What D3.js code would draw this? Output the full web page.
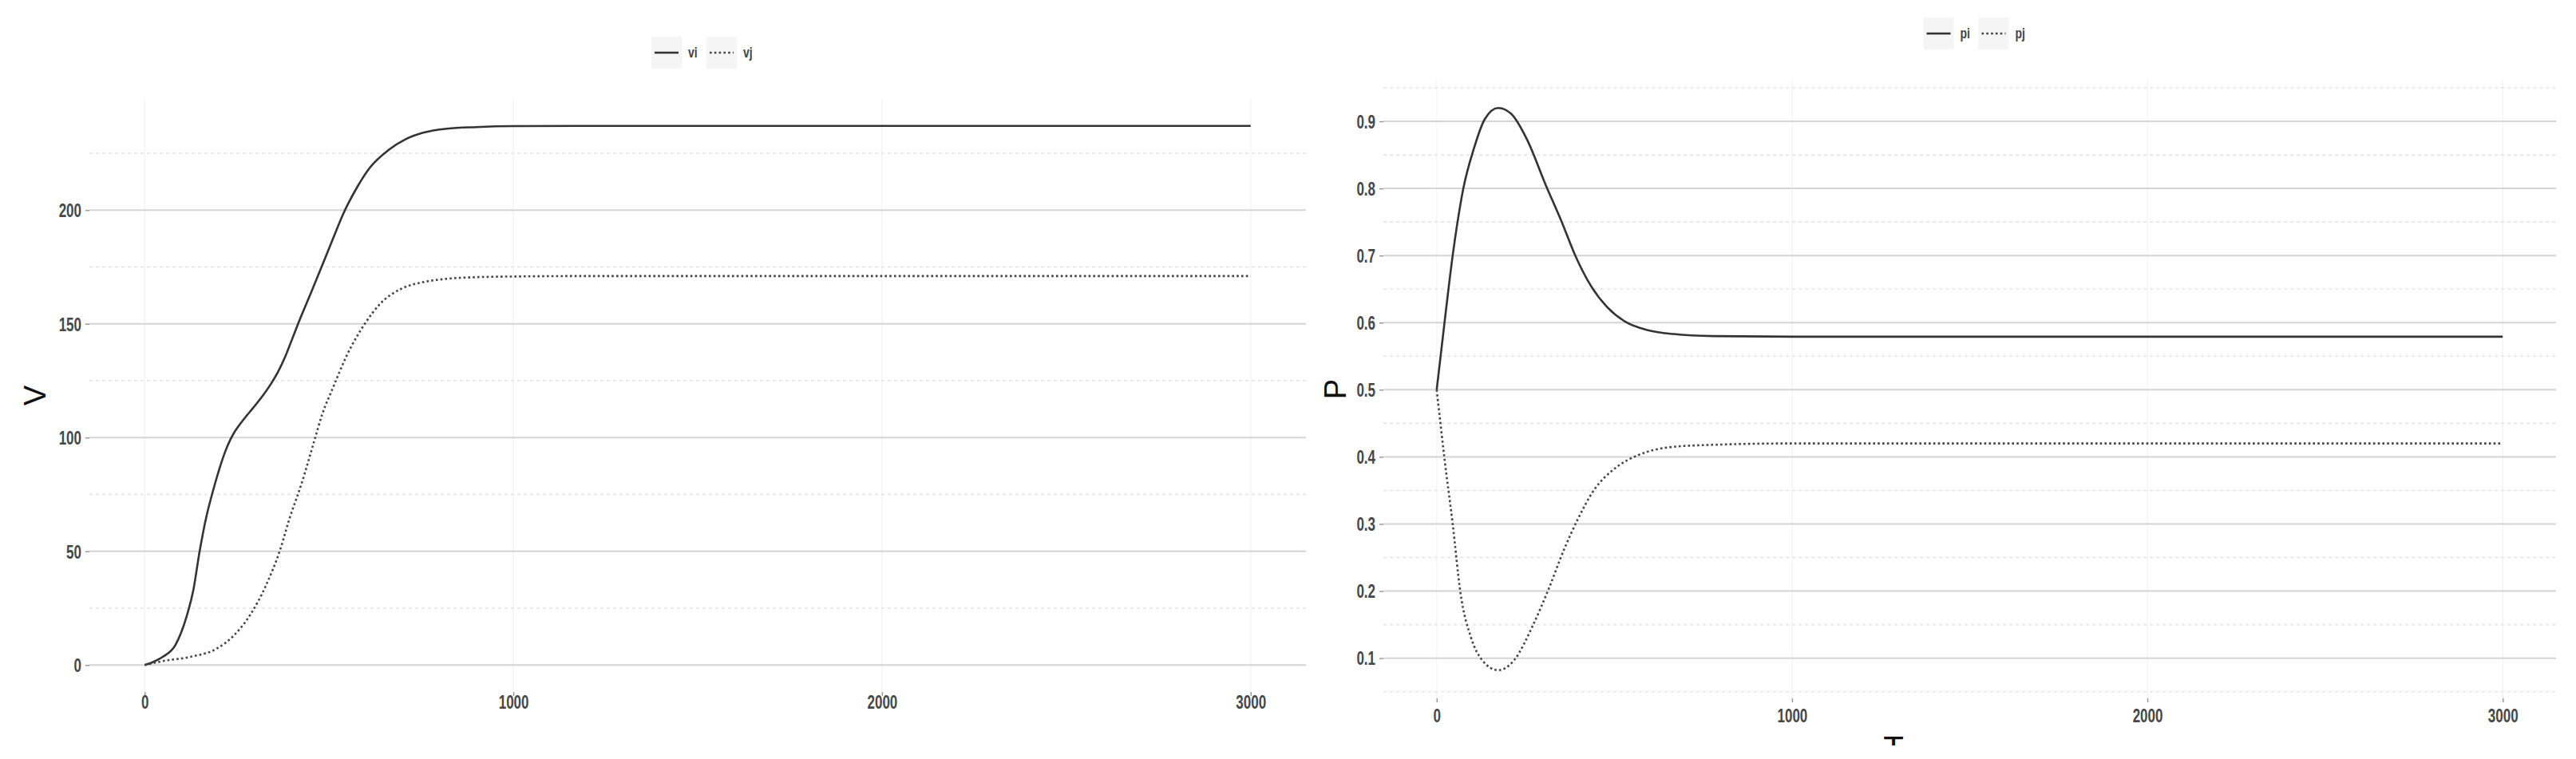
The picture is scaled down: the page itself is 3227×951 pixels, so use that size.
<!DOCTYPE html>
<html>
<head>
<meta charset="utf-8">
<script src="https://cdn.jsdelivr.net/npm/d3@7/dist/d3.min.js"></script>
<style>
  body { margin: 0; background: #fff; }
  text { font-family: "Liberation Sans", Arial, sans-serif; }
</style>
</head>
<body>
<svg id="chart" width="3227" height="951"></svg>
<script>
// values (t = time step)
const viT = [0, 25, 48, 84, 113, 132, 149, 167, 186, 208, 220, 232, 245, 258, 276, 294, 323, 344, 362, 381, 398, 416, 452, 481, 511, 539, 576, 610, 662, 706, 755, 820, 900, 1000, 1200, 1600, 2000, 2500, 3000];
const viV = [0, 1.5, 3.5, 9, 21, 33, 50, 65, 77, 89, 94.5, 99, 102.8, 105.8, 109.5, 113, 119, 124, 129, 135.5, 142.5, 150, 164, 175.5, 187.5, 198.5, 210, 218.5, 226.5, 231, 234, 235.8, 236.5, 236.9, 237, 237, 237, 237, 237];

const vjT = [0, 48, 121, 193, 242, 286, 329, 366, 394, 424, 459, 481, 511, 545, 597, 640, 697, 755, 820, 900, 1000, 1200, 1600, 2000, 2500, 3000];
const vjV = [0, 1.7, 3.5, 7, 13, 22, 35, 50, 65, 79, 98, 110, 122, 135, 150, 159, 165.5, 168.3, 169.8, 170.5, 170.8, 171, 171, 171, 171, 171];

const piT = [0, 22, 45, 75, 105, 135, 173, 210, 255, 307, 352, 390, 435, 480, 532, 592, 667, 780, 1000, 1500, 2000, 2500, 3000];
const piV = [0.5, 0.6, 0.7, 0.8, 0.86, 0.903, 0.92, 0.911, 0.872, 0.805, 0.75, 0.7, 0.654, 0.623, 0.601, 0.589, 0.583, 0.58, 0.579, 0.579, 0.579, 0.579, 0.579];

const pjT = [0, 22, 45, 67, 97, 128, 173, 218, 270, 315, 360, 397, 442, 502, 569, 667, 780, 1000, 1500, 2000, 2500, 3000];
const pjV = [0.5, 0.397, 0.3, 0.197, 0.13, 0.097, 0.082, 0.097, 0.148, 0.203, 0.264, 0.307, 0.35, 0.383, 0.403, 0.415, 0.418, 0.42, 0.42, 0.42, 0.42, 0.42];

const xTicks = [0, 1000, 2000, 3000];
const vTicks = [0, 50, 100, 150, 200];
const pTicks = [0.1, 0.2, 0.3, 0.4, 0.5, 0.6, 0.7, 0.8, 0.9];

const svg = d3.select('#chart');

function zip(ts, vs) {
  return ts.map((t, i) => ({ t: t, v: vs[i] }));
}

// ggplot style 5% expansion
function expand(ext) {
  const pad = (ext[1] - ext[0]) * 0.05;
  return [ext[0] - pad, ext[1] + pad];
}

function minorTicks(ticks, domain) {
  const step = ticks[1] - ticks[0];
  const m = ticks.map(d => d - step / 2).concat([ticks[ticks.length - 1] + step / 2]);
  return m.filter(d => d > domain[0] && d < domain[1]);
}

function drawPanel(opts) {
  const b = opts.box;
  const g = svg.append('g');

  const allT = opts.series.flatMap(s => s.t);
  const allV = opts.series.flatMap(s => s.v);
  const x = d3.scaleLinear().domain(expand(d3.extent(allT))).range([b.left, b.right]);
  const y = d3.scaleLinear().domain(expand(d3.extent(allV))).range([b.bottom, b.top]);

  // grid
  const grid = g.append('g');
  grid.selectAll('.vgrid')
    .data(xTicks)
    .enter().append('line')
    .attr('x1', d => x(d)).attr('x2', d => x(d))
    .attr('y1', b.top).attr('y2', b.bottom)
    .style('stroke', '#f5f5f5')
    .style('stroke-width', 1.5);

  grid.selectAll('.minor')
    .data(minorTicks(opts.yTicks, y.domain()))
    .enter().append('line')
    .attr('x1', b.left).attr('x2', b.right)
    .attr('y1', d => y(d)).attr('y2', d => y(d))
    .style('stroke', '#e4e4e4')
    .style('stroke-width', 1.6)
    .style('stroke-dasharray', '4,4');

  grid.selectAll('.major')
    .data(opts.yTicks)
    .enter().append('line')
    .attr('x1', b.left).attr('x2', b.right)
    .attr('y1', d => y(d)).attr('y2', d => y(d))
    .style('stroke', '#d4d4d4')
    .style('stroke-width', 2);

  // axes
  const yAxis = g.append('g')
    .attr('transform', 'translate(' + b.left + ',0)')
    .call(d3.axisLeft(y).tickValues(opts.yTicks).tickSize(5).tickPadding(5).tickFormat(opts.yFormat));
  yAxis.select('.domain').remove();
  yAxis.selectAll('line').attr('stroke', '#999').attr('stroke-width', 1.5);
  yAxis.selectAll('text')
    .attr('font-size', 17)
    .attr('font-weight', 'bold')
    .attr('fill', '#474747')
    .attr('dy', '0.35em')
    .attr('transform', 'scale(1,1.4)');

  const xAxis = g.append('g')
    .attr('transform', 'translate(0,' + b.bottom + ')')
    .call(d3.axisBottom(x).tickValues(xTicks).tickSize(5).tickFormat(d3.format('d')));
  xAxis.select('.domain').remove();
  xAxis.selectAll('line').attr('stroke', '#999').attr('stroke-width', 1.5);
  xAxis.selectAll('text')
    .attr('font-size', 17)
    .attr('font-weight', 'bold')
    .attr('fill', '#474747')
    .attr('y', 0)
    .attr('dy', 0)
    .attr('transform', 'translate(0,' + opts.xLabelOffset + ') scale(1,1.4)');

  // axis title
  g.append('text')
    .attr('transform', 'translate(' + (b.left - opts.titleGap) + ',' + (b.top + b.bottom) / 2 + ') rotate(-90)')
    .attr('text-anchor', 'middle')
    .attr('dy', '0.36em')
    .attr('font-size', 38)
    .attr('fill', '#111')
    .text(opts.yTitle);

  // series
  const line = d3.line()
    .x(d => x(d.t))
    .y(d => y(d.v))
    .curve(d3.curveMonotoneX);

  g.selectAll('.series')
    .data(opts.series)
    .enter().append('path')
    .attr('d', d => line(zip(d.t, d.v)))
    .style('fill', 'none')
    .style('stroke', d => d.dotted ? '#444' : '#333')
    .style('stroke-width', 2.6)
    .style('stroke-dasharray', d => d.dotted ? '2.6,3.2' : null);

  // legend on top
  const cx = (b.left + b.right) / 2;
  const ly = b.top - 58;
  const item = g.selectAll('.legend')
    .data(opts.series)
    .enter().append('g')
    .attr('transform', (d, i) => 'translate(' + (cx - 58 + i * 69) + ',' + ly + ')');
  item.append('rect')
    .attr('x', 0).attr('y', -20)
    .attr('width', 38).attr('height', 40)
    .style('fill', '#f5f5f5');
  item.append('line')
    .attr('x1', 4).attr('x2', 34)
    .style('stroke', d => d.dotted ? '#444' : '#333')
    .style('stroke-width', 2.6)
    .style('stroke-dasharray', d => d.dotted ? '2.6,3.2' : null);
  item.append('text')
    .attr('x', 46)
    .attr('dy', '0.35em')
    .attr('font-size', 14)
    .attr('font-weight', 'bold')
    .attr('fill', '#444')
    .attr('transform', 'scale(1,1.3)')
    .text(d => d.name);

  return { x: x, y: y };
}

drawPanel({
  box: { left: 112, right: 1636, top: 124, bottom: 867 },
  series: [
    { name: 'vi', t: viT, v: viV, dotted: false },
    { name: 'vj', t: vjT, v: vjV, dotted: true }
  ],
  yTicks: vTicks,
  yFormat: d3.format('d'),
  yTitle: 'V',
  titleGap: 69,
  xLabelOffset: 21
});

drawPanel({
  box: { left: 1733, right: 3202, top: 100, bottom: 875 },
  series: [
    { name: 'pi', t: piT, v: piV, dotted: false },
    { name: 'pj', t: pjT, v: pjV, dotted: true }
  ],
  yTicks: pTicks,
  yFormat: d3.format('.1f'),
  yTitle: 'P',
  titleGap: 61,
  xLabelOffset: 30
});

// x title of the right panel, cut off by the bottom of the picture
svg.append('clipPath').attr('id', 'cut')
  .append('rect').attr('x', 0).attr('y', 0).attr('width', 3227).attr('height', 934);
svg.append('text')
  .attr('clip-path', 'url(#cut)')
  .attr('x', 2372)
  .attr('y', 952)
  .attr('text-anchor', 'middle')
  .attr('font-size', 42)
  .attr('fill', '#111')
  .text('T');
</script>
</body>
</html>
